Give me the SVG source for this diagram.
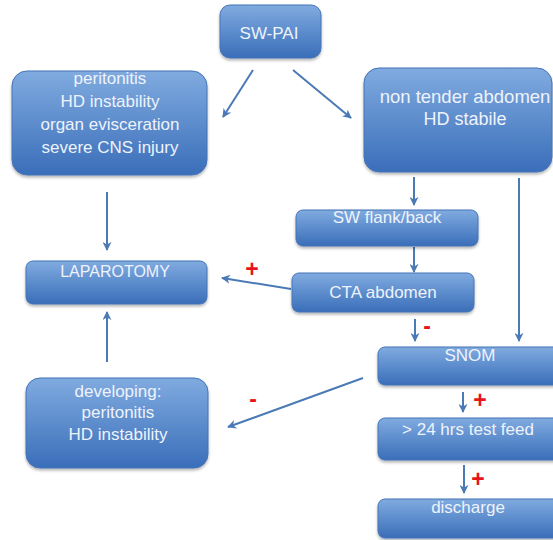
<svg xmlns="http://www.w3.org/2000/svg" width="553" height="540" viewBox="0 0 553 540">
<defs>
<linearGradient id="g" x1="0" y1="0" x2="0" y2="1">
<stop offset="0" stop-color="#80abe0"/>
<stop offset="1" stop-color="#3a6eb9"/>
</linearGradient>
<filter id="sh" x="-10%" y="-10%" width="120%" height="130%">
<feGaussianBlur in="SourceAlpha" stdDeviation="1.5"/>
<feOffset dx="0" dy="2" result="b"/>
<feComponentTransfer><feFuncA type="linear" slope="0.3"/></feComponentTransfer>
<feMerge><feMergeNode/><feMergeNode in="SourceGraphic"/></feMerge>
</filter>
<marker id="ah" viewBox="0 0 10 10" refX="9" refY="5" markerWidth="4.5" markerHeight="4.5" orient="auto" markerUnits="strokeWidth">
<path d="M0,0 L10,5 L0,10 L3,5 z" fill="#4a7ab6"/>
</marker>
<style>
.box{fill:url(#g);stroke:#4574b6;stroke-width:1;filter:url(#sh)}
.t{font-family:"Liberation Sans",Arial,sans-serif;font-size:17px;fill:#eef3fb;text-anchor:middle}
.c{stroke:#4a7ab6;stroke-width:2;fill:none;marker-end:url(#ah)}
.s{font-family:"Liberation Sans",Arial,sans-serif;font-weight:bold;font-size:23px;fill:#e8141c;text-anchor:middle}
</style>
</defs>
<rect width="553" height="540" fill="#ffffff"/>

<g id="connectors">
<line class="c" x1="253" y1="70" x2="223" y2="117"/>
<line class="c" x1="293" y1="70" x2="351" y2="118"/>
<line class="c" x1="107" y1="192" x2="107" y2="250"/>
<line class="c" x1="414" y1="177" x2="414" y2="205"/>
<line class="c" x1="519" y1="178" x2="519" y2="341"/>
<line class="c" x1="414" y1="247" x2="414" y2="272"/>
<line class="c" x1="291" y1="289" x2="222" y2="278"/>
<line class="c" x1="415" y1="319" x2="415" y2="341"/>
<line class="c" x1="363" y1="378" x2="228" y2="427"/>
<line class="c" x1="107" y1="362" x2="107" y2="312"/>
<line class="c" x1="463" y1="392" x2="463" y2="412"/>
<line class="c" x1="464" y1="465" x2="464" y2="493"/>
</g>

<g id="signs">
<text class="s" x="252" y="277">+</text>
<text class="s" x="427" y="334">-</text>
<text class="s" x="253" y="407">-</text>
<text class="s" x="480" y="408">+</text>
<text class="s" x="478" y="487">+</text>
</g>

<g id="sw-pai">
<rect class="box" x="220" y="5" width="101" height="53" rx="10"/>
<text class="t" x="269" y="39">SW-PAI</text>
</g>

<g id="unstable">
<rect class="box" x="12" y="71" width="195" height="104" rx="15"/>
<text class="t" x="110" y="84">peritonitis</text>
<text class="t" x="110" y="107">HD instability</text>
<text class="t" x="110" y="130">organ evisceration</text>
<text class="t" x="110" y="153">severe CNS injury</text>
</g>

<g id="stable">
<rect class="box" x="364" y="68" width="188" height="104" rx="15"/>
<text class="t" x="465" y="103" style="font-size:18.5px">non tender abdomen</text>
<text class="t" x="465" y="125" style="font-size:18px">HD stabile</text>
</g>

<g id="flank">
<rect class="box" x="296" y="210" width="182" height="36" rx="7"/>
<text class="t" x="387" y="223">SW flank/back</text>
</g>

<g id="cta">
<rect class="box" x="292" y="273" width="182" height="39" rx="7"/>
<text class="t" x="383" y="298">CTA abdomen</text>
</g>

<g id="laparotomy">
<rect class="box" x="26" y="261" width="181" height="43" rx="7"/>
<text class="t" x="115" y="277" style="font-size:16px">LAPAROTOMY</text>
</g>

<g id="developing">
<rect class="box" x="26" y="378" width="182" height="90" rx="14"/>
<text class="t" x="118" y="397">developing:</text>
<text class="t" x="118" y="418">peritonitis</text>
<text class="t" x="118" y="440">HD instability</text>
</g>

<g id="snom">
<rect class="box" x="378" y="347" width="185" height="38" rx="7"/>
<text class="t" x="470" y="361">SNOM</text>
</g>

<g id="testfeed">
<rect class="box" x="378" y="418" width="185" height="42" rx="7"/>
<text class="t" x="468" y="435">&gt; 24 hrs test feed</text>
</g>

<g id="discharge">
<rect class="box" x="378" y="499" width="185" height="39" rx="7"/>
<text class="t" x="468" y="513">discharge</text>
</g>
</svg>
